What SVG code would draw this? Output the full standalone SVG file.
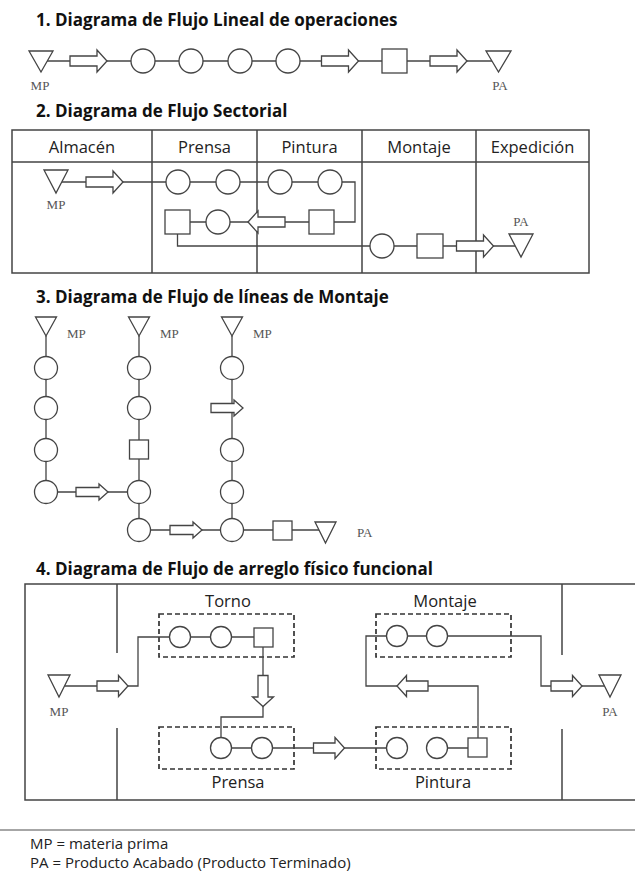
<svg xmlns="http://www.w3.org/2000/svg" xmlns:xlink="http://www.w3.org/1999/xlink" width="635" height="873" viewBox="0 0 635 873">
<style>
.bg{fill:#fff}
.title{font-family:"Open Sans","Liberation Sans",sans-serif;font-weight:bold;font-size:17px;fill:#111}
.hdr{font-family:"Open Sans","Liberation Sans",sans-serif;font-size:16.5px;fill:#222;text-anchor:middle}
.lbl{font-family:"Liberation Serif","DejaVu Serif",serif;font-size:13px;fill:#555}
.leg{font-family:"Open Sans","Liberation Sans",sans-serif;font-size:15px;fill:#222}
.ln{fill:none;stroke:#444;stroke-width:1.3}
.nd{fill:#fff;stroke:#444;stroke-width:1.3}
.frame{fill:none;stroke:#444;stroke-width:1.5}
.dash{fill:none;stroke:#333;stroke-width:1.7;stroke-dasharray:5,3}
</style>
<defs>
<path id="arrL" d="M-18.5,-5 H8.5 V-11 L18.5,0 L8.5,11 V5 H-18.5 Z"/>
<path id="arrM" d="M-16,-4.5 H7 V-8 L16,0 L7,8 V4.5 H-16 Z"/>
<path id="arrS" d="M-15.5,-5 H6 V-10.5 L15.5,0 L6,10.5 V5 H-15.5 Z"/>
</defs>
<rect class="bg" x="0" y="0" width="635" height="873"/>

<!-- Titles -->
<text class="title" x="36" y="26">1. Diagrama de Flujo Lineal de operaciones</text>
<text class="title" x="36" y="117">2. Diagrama de Flujo Sectorial</text>
<text class="title" x="36" y="303">3. Diagrama de Flujo de líneas de Montaje</text>
<text class="title" x="36" y="575">4. Diagrama de Flujo de arreglo físico funcional</text>

<!-- Frames -->
<g id="frame2">
<rect class="frame" x="12" y="130" width="577" height="143"/>
<path class="frame" d="M12,162 H589 M152,130 V273 M257,130 V273 M362,130 V273 M476,130 V273"/>
<text class="hdr" x="82" y="153">Almacén</text>
<text class="hdr" x="204.5" y="153">Prensa</text>
<text class="hdr" x="309.5" y="153">Pintura</text>
<text class="hdr" x="419" y="153">Montaje</text>
<text class="hdr" x="532.5" y="153">Expedición</text>
</g>
<g id="frame4">
<path class="frame" d="M635,584 H25 V800 H635 M117,584 V653 M117,728 V800 M562,584 V655 M562,729 V800"/>
<rect class="dash" x="159" y="614" width="135" height="43"/>
<rect class="dash" x="159" y="727" width="135" height="42"/>
<rect class="dash" x="376" y="614" width="135" height="43"/>
<rect class="dash" x="376" y="727" width="135" height="42"/>
<text class="hdr" x="228" y="607">Torno</text>
<text class="hdr" x="445" y="607">Montaje</text>
<text class="hdr" x="238" y="788">Prensa</text>
<text class="hdr" x="443" y="788">Pintura</text>
</g>

<!-- Connectors -->
<g id="connectors">
<path class="ln" d="M47,61 H492"/>
<path class="ln" d="M62,182 H355 V222 H165 M177.5,234 V246 H517"/>
<path class="ln" d="M46,336 V492 H139 M139,336 V530 H319 M232,336 V530"/>
<path class="ln" d="M64.5,686 H138 V637 H255 M263,647 V717 H221 V748 H397 M437,748 H487 M478,738 V686 H366 V636 H541 V686 H604.5"/>
</g>

<!-- Section 1 nodes -->
<g id="s1-mp"><polygon class="nd" points="29,51 53,51 41,72"/><text class="lbl" x="40" y="90" text-anchor="middle">MP</text></g>
<g id="s1-a1"><use class="nd" href="#arrL" xlink:href="#arrL" x="88.5" y="61"/></g>
<g id="s1-o1"><circle class="nd" cx="143" cy="61" r="12"/></g>
<g id="s1-o2"><circle class="nd" cx="191" cy="61" r="12"/></g>
<g id="s1-o3"><circle class="nd" cx="240" cy="61" r="12"/></g>
<g id="s1-o4"><circle class="nd" cx="288" cy="61" r="12"/></g>
<g id="s1-a2"><use class="nd" href="#arrL" xlink:href="#arrL" x="340" y="61"/></g>
<g id="s1-i1"><rect class="nd" x="382" y="49" width="25" height="24"/></g>
<g id="s1-a3"><use class="nd" href="#arrL" xlink:href="#arrL" x="448.5" y="61"/></g>
<g id="s1-pa"><polygon class="nd" points="486,51 511,51 498.5,72"/><text class="lbl" x="500" y="90" text-anchor="middle">PA</text></g>

<!-- Section 2 nodes -->
<g id="s2-mp"><polygon class="nd" points="44,170 68,170 56,193"/><text class="lbl" x="56" y="209" text-anchor="middle">MP</text></g>
<g id="s2-a1"><use class="nd" href="#arrL" xlink:href="#arrL" x="104.5" y="182"/></g>
<g id="s2-o1"><circle class="nd" cx="178" cy="182" r="12"/></g>
<g id="s2-o2"><circle class="nd" cx="228" cy="182" r="12"/></g>
<g id="s2-o3"><circle class="nd" cx="280" cy="182" r="12"/></g>
<g id="s2-o4"><circle class="nd" cx="330" cy="182" r="12"/></g>
<g id="s2-i1"><rect class="nd" x="309" y="210" width="25" height="24"/></g>
<g id="s2-a2"><use class="nd" href="#arrL" xlink:href="#arrL" transform="translate(266.5,222) rotate(180)"/></g>
<g id="s2-o5"><circle class="nd" cx="218" cy="222" r="12"/></g>
<g id="s2-i2"><rect class="nd" x="165" y="210" width="25" height="24"/></g>
<g id="s2-o6"><circle class="nd" cx="382" cy="246" r="12"/></g>
<g id="s2-i3"><rect class="nd" x="417" y="234" width="26" height="24"/></g>
<g id="s2-a3"><use class="nd" href="#arrL" xlink:href="#arrL" x="475" y="246"/></g>
<g id="s2-pa"><polygon class="nd" points="509,234 533,234 521,257"/><text class="lbl" x="521" y="226" text-anchor="middle">PA</text></g>

<!-- Section 3 nodes -->
<g id="s3-mp1"><polygon class="nd" points="35.5,317 56.5,317 46,336"/><text class="lbl" x="67" y="338">MP</text></g>
<g id="s3-mp2"><polygon class="nd" points="128.5,317 149.5,317 139,336"/><text class="lbl" x="160" y="338">MP</text></g>
<g id="s3-mp3"><polygon class="nd" points="221.5,317 242.5,317 232,336"/><text class="lbl" x="253" y="338">MP</text></g>
<g id="s3-c1o1"><circle class="nd" cx="46" cy="368" r="11.5"/></g>
<g id="s3-c1o2"><circle class="nd" cx="46" cy="408" r="11.5"/></g>
<g id="s3-c1o3"><circle class="nd" cx="46" cy="450" r="11.5"/></g>
<g id="s3-c1o4"><circle class="nd" cx="46" cy="492" r="11.5"/></g>
<g id="s3-a1"><use class="nd" href="#arrM" xlink:href="#arrM" x="92" y="492"/></g>
<g id="s3-c2o1"><circle class="nd" cx="139" cy="368" r="11.5"/></g>
<g id="s3-c2o2"><circle class="nd" cx="139" cy="408" r="11.5"/></g>
<g id="s3-c2i1"><rect class="nd" x="129.5" y="440" width="19" height="19"/></g>
<g id="s3-c2o3"><circle class="nd" cx="139" cy="492" r="11.5"/></g>
<g id="s3-c2o4"><circle class="nd" cx="139" cy="530" r="11.5"/></g>
<g id="s3-a2"><use class="nd" href="#arrM" xlink:href="#arrM" x="186" y="530"/></g>
<g id="s3-c3o1"><circle class="nd" cx="232" cy="368" r="11.5"/></g>
<g id="s3-a3"><use class="nd" href="#arrM" xlink:href="#arrM" x="227" y="408"/></g>
<g id="s3-c3o2"><circle class="nd" cx="232" cy="450" r="11.5"/></g>
<g id="s3-c3o3"><circle class="nd" cx="232" cy="492" r="11.5"/></g>
<g id="s3-c3o4"><circle class="nd" cx="232" cy="530" r="11.5"/></g>
<g id="s3-i2"><rect class="nd" x="273" y="521" width="19" height="19"/></g>
<g id="s3-pa"><polygon class="nd" points="315,522 336,522 325.5,543"/><text class="lbl" x="357" y="537">PA</text></g>

<!-- Section 4 nodes -->
<g id="s4-mp"><polygon class="nd" points="48,675 70,675 59,697"/><text class="lbl" x="59" y="716" text-anchor="middle">MP</text></g>
<g id="s4-a1"><use class="nd" href="#arrS" xlink:href="#arrS" x="112.5" y="686"/></g>
<g id="s4-t1"><circle class="nd" cx="180" cy="637" r="10.5"/></g>
<g id="s4-t2"><circle class="nd" cx="221" cy="637" r="10.5"/></g>
<g id="s4-t3"><rect class="nd" x="254" y="628" width="19" height="19"/></g>
<g id="s4-a2"><use class="nd" href="#arrS" xlink:href="#arrS" transform="translate(263,691) rotate(90)"/></g>
<g id="s4-p1"><circle class="nd" cx="221" cy="748" r="10.5"/></g>
<g id="s4-p2"><circle class="nd" cx="262" cy="748" r="10.5"/></g>
<g id="s4-a3"><use class="nd" href="#arrS" xlink:href="#arrS" x="329" y="748"/></g>
<g id="s4-pi1"><circle class="nd" cx="397" cy="748" r="10.5"/></g>
<g id="s4-pi2"><circle class="nd" cx="437" cy="748" r="10.5"/></g>
<g id="s4-pi3"><rect class="nd" x="468" y="738" width="19" height="19"/></g>
<g id="s4-a4"><use class="nd" href="#arrS" xlink:href="#arrS" transform="translate(412.5,686) rotate(180)"/></g>
<g id="s4-m1"><circle class="nd" cx="397" cy="636" r="10.5"/></g>
<g id="s4-m2"><circle class="nd" cx="437" cy="636" r="10.5"/></g>
<g id="s4-a5"><use class="nd" href="#arrS" xlink:href="#arrS" x="566.5" y="686"/></g>
<g id="s4-pa"><polygon class="nd" points="599,675 621,675 610,697"/><text class="lbl" x="610" y="716" text-anchor="middle">PA</text></g>

<!-- Legend -->
<g id="legend">
<path d="M0,830 H635" stroke="#888" stroke-width="1.5" fill="none"/>
<text class="leg" x="30" y="849">MP = materia prima</text>
<text class="leg" x="30" y="868">PA = Producto Acabado (Producto Terminado)</text>
</g>
</svg>
